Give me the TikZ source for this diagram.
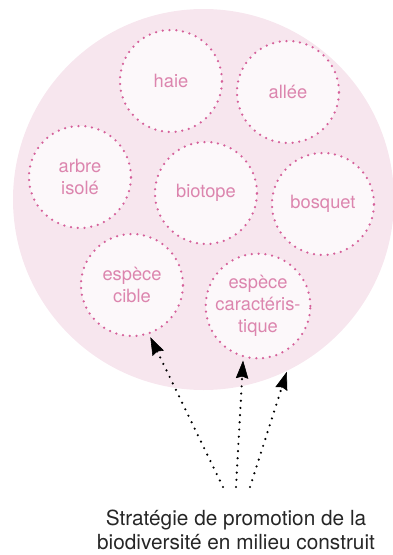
\documentclass[tikz,border=0pt]{standalone}
\usepackage{fontspec}
\setmainfont{TeX Gyre Heros}
\usetikzlibrary{arrows.meta,calc}
\definecolor{bigpink}{HTML}{F7E6EE}
\definecolor{smallfill}{HTML}{FCF8FA}
\definecolor{dotpink}{HTML}{D5609A}
\definecolor{textpink}{HTML}{DC85AE}
\tikzset{
  bubble/.style={circle, minimum size=102pt, inner sep=0pt, fill=smallfill,
    draw=dotpink, line width=2.5pt, line cap=round, dash pattern=on 0pt off 6.8pt,
    text=textpink, align=center, font=\fontsize{18.3}{22}\selectfont},
  dotline/.style={line width=2.4pt, line cap=round, dash pattern=on 0pt off 7.2pt},
  tiphead/.style={solid, line width=0.6pt, -{Stealth[length=18pt,width=12.5pt,inset=2pt]}}
}
\begin{document}
\begin{tikzpicture}[x=1pt,y=-1pt]
\useasboundingbox (0,0) rectangle (392,555);
\node[circle, minimum size=381pt, inner sep=0pt, fill=bigpink] (big) at (203.5,199.5) {};
\node[bubble] (haie) at (171,81) {haie};
\node[bubble] (allee) at (288,92) {allée};
\node[bubble] (arbre) at (80,177) {arbre\\isolé};
\node[bubble] (biotope) at (206,193) {biotope};
\node[bubble] (bosquet) at (323,204) {bosquet};
\node[bubble] (cible) at (132,285) {espèce\\cible};
\node[bubble] (carac) at (258,306) {espèce\\caractéris-\\tique};
\node[align=center, font=\fontsize{20.8}{23.5}\selectfont, text=black!85] (strat) at (236,530) {Stratégie de promotion de la\\biodiversité en milieu construit};
\coordinate (s1) at (223,487);
\coordinate (s2) at (236,487);
\coordinate (s3) at (250,487);
\coordinate (e1) at ($(cible.-71)!3pt!(s1)$);
\coordinate (e2) at ($(carac.-106)!3pt!(s2)$);
\coordinate (e3) at ($(big.-64.3)!1pt!(s3)$);
\draw[dotline, shorten >=15pt] (s1) -- (e1);
\draw[dotline, shorten >=15pt] (s2) -- (e2);
\draw[dotline, shorten >=15pt] (s3) -- (e3);
\draw[tiphead] ($(e1)!17pt!(s1)$) -- (e1);
\draw[tiphead] ($(e2)!17pt!(s2)$) -- (e2);
\draw[tiphead] ($(e3)!17pt!(s3)$) -- (e3);
\end{tikzpicture}
\end{document}
